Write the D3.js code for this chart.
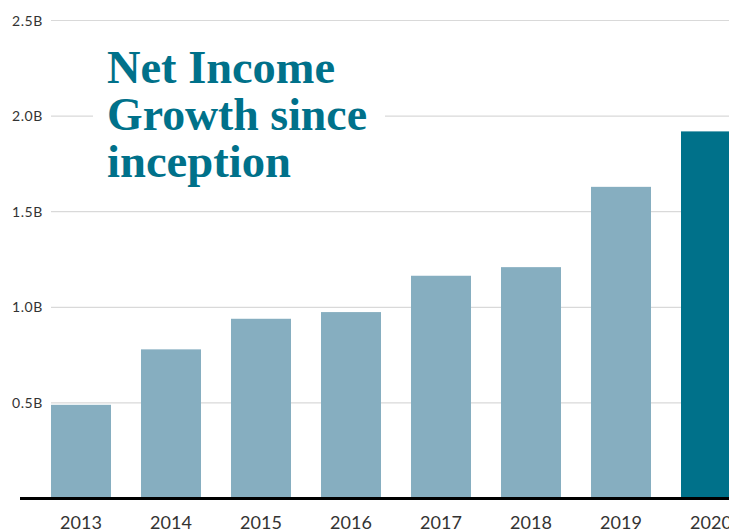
<!DOCTYPE html>
<html>
<head>
<meta charset="utf-8">
<script src="https://cdn.jsdelivr.net/npm/d3@7"></script>
<style>
  html, body { margin: 0; padding: 0; background: #fff; overflow: hidden; }
  svg { display: block; }
</style>
</head>
<body>
<svg id="chart" width="729" height="529"></svg>
<script>
// data (billions)
var years = ["2013", "2014", "2015", "2016", "2017", "2018", "2019", "2020"];
var netIncome = [0.49, 0.78, 0.94, 0.975, 1.165, 1.21, 1.63, 1.92];
var yTicks = [0.5, 1.0, 1.5, 2.0, 2.5];
var titleLines = ["Net Income", "Growth since", "inception"];

var colors = {
    bar: "#86AEC0",
    barLatest: "#00718A",
    grid: "#D9D9D9",
    axis: "#000000",
    label: "#333333",
    title: "#00718A"
};

var svg = d3.select("#chart");

var x = d3.scaleBand()
    .domain(years)
    .range([36, 756])
    .paddingInner(1 / 3)
    .paddingOuter(1 / 6);

var y = d3.scaleLinear()
    .domain([0, 2.5])
    .range([498.5, 20.5]);

// gridlines
svg.append("g")
    .selectAll("line")
    .data(yTicks)
    .enter().append("line")
    .attr("x1", 51)
    .attr("x2", 729)
    .attr("y1", function(d) { return y(d); })
    .attr("y2", function(d) { return y(d); })
    .attr("stroke", colors.grid)
    .attr("stroke-width", 1.2);

// tick labels
svg.append("g")
    .selectAll("text")
    .data(yTicks)
    .enter().append("text")
    .attr("x", 43)
    .attr("y", function(d) { return y(d); })
    .attr("dy", "0.36em")
    .attr("text-anchor", "end")
    .attr("font-family", "Lato, 'Open Sans', sans-serif")
    .attr("font-size", 14)
    .attr("letter-spacing", 0.6)
    .attr("fill", colors.label)
    .text(function(d) { return d.toFixed(1) + "B"; });

// title box masks the grid behind it
var title = svg.append("g");
title.append("rect")
    .attr("x", 93)
    .attr("y", 38)
    .attr("width", 292)
    .attr("height", 160)
    .attr("fill", "#fff");

var titleWidths = [228, 260, 184];
title.selectAll("text")
    .data(titleLines)
    .enter().append("text")
    .attr("x", 107)
    .attr("y", function(d, i) { return 83 + i * 47; })
    .attr("font-family", "'Liberation Serif', 'DejaVu Serif', serif")
    .attr("font-weight", "bold")
    .attr("font-size", 46)
    .attr("fill", colors.title)
    .attr("textLength", function(d, i) { return titleWidths[i]; })
    .attr("lengthAdjust", "spacingAndGlyphs")
    .text(function(d) { return d; });

// bars
svg.append("g")
    .selectAll("rect")
    .data(years)
    .enter().append("rect")
    .attr("x", function(d) { return x(d); })
    .attr("width", x.bandwidth())
    .attr("y", function(d, i) { return y(netIncome[i]); })
    .attr("height", function(d, i) { return y(0) - y(netIncome[i]); })
    .attr("fill", function(d, i) { return i === years.length - 1 ? colors.barLatest : colors.bar; });

// baseline
svg.append("line")
    .attr("x1", 20)
    .attr("x2", 729)
    .attr("y1", y(0))
    .attr("y2", y(0))
    .attr("stroke", colors.axis)
    .attr("stroke-width", 3);

// year labels (bottom edge clips them, as in the source)
svg.append("g")
    .selectAll("text")
    .data(years)
    .enter().append("text")
    .attr("x", function(d) { return x(d) + x.bandwidth() / 2; })
    .attr("y", 529)
    .attr("text-anchor", "middle")
    .attr("font-family", "Lato, 'Open Sans', sans-serif")
    .attr("font-size", 18)
    .attr("fill", colors.label)
    .text(function(d) { return d; });
</script>
</body>
</html>
